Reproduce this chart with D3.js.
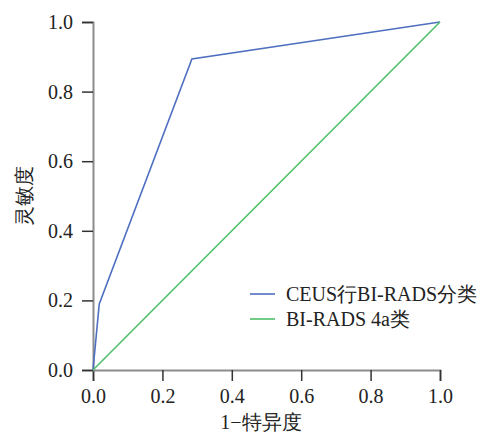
<!DOCTYPE html>
<html>
<head>
<meta charset="utf-8">
<script src="https://cdn.jsdelivr.net/npm/d3@7"></script>
<style>
  body { margin: 0; background: #fff; }
  svg text { font-family: "Liberation Serif", "Times New Roman", Times, "DejaVu Serif", serif; fill: #222; }
</style>
</head>
<body>
<div id="plot"></div>
<script>
const width = 484, height = 439;
const margin = { top: 22, bottom: 69, left: 93, right: 44 };

// ROC data
const ceusFpr = [0, 0.018, 0.285, 1];
const ceusTpr = [0, 0.19, 0.894, 1];
const refFpr = [0, 1];
const refTpr = [0, 1];
const ticks = [0, 0.2, 0.4, 0.6, 0.8, 1.0];
const seriesNames = ['CEUS行BI-RADS分类', 'BI-RADS 4a类'];
const colors = ['#4f6fc0', '#4fbf6a'];
const serif = '"Liberation Serif", "Times New Roman", Times, serif';

const svg = d3.select('#plot')
  .append('svg')
  .attr('width', width)
  .attr('height', height)
  .attr('font-family', serif);

const x = d3.scaleLinear().domain([0, 1]).range([margin.left, width - margin.right]);
const y = d3.scaleLinear().domain([0, 1]).range([height - margin.bottom, margin.top]);

// Axes
const xAxis = svg.append('g')
  .attr('transform', `translate(0,${height - margin.bottom})`)
  .call(d3.axisBottom(x).tickValues(ticks).tickFormat(d3.format('.1f')).tickSizeOuter(0).tickSize(11).tickPadding(8));

const yAxis = svg.append('g')
  .attr('transform', `translate(${margin.left},0)`)
  .call(d3.axisLeft(y).tickValues(ticks).tickFormat(d3.format('.1f')).tickSizeOuter(0).tickSize(11).tickPadding(9));

[xAxis, yAxis].forEach(a => {
  a.attr('font-family', serif).attr('font-size', 20);
  a.select('.domain').attr('stroke', '#8c8c8c').attr('stroke-width', 2);
  a.selectAll('.tick line').attr('stroke', '#333').attr('stroke-width', 1.5);
  a.selectAll('.tick text').attr('fill', '#222');
});

// Lines
const line = d3.line().x(d => x(d[0])).y(d => y(d[1]));
const series = [
  d3.zip(ceusFpr, ceusTpr),
  d3.zip(refFpr, refTpr)
];

svg.append('g')
  .selectAll('path')
  .data(series)
  .join('path')
  .attr('d', line)
  .attr('fill', 'none')
  .attr('stroke', (d, i) => colors[i])
  .attr('stroke-width', 1.6);

// Axis labels
svg.append('text')
  .attr('x', 261)
  .attr('y', 429)
  .attr('text-anchor', 'middle')
  .style('font-size', '20px')
  .text('1−特异度');

svg.append('text')
  .attr('transform', `translate(31,${y(0.5)}) rotate(-90)`)
  .attr('text-anchor', 'middle')
  .style('font-size', '20px')
  .text('灵敏度');

// Legend
const legend = svg.append('g')
  .attr('transform', 'translate(250,294)');

legend.selectAll('line')
  .data(seriesNames)
  .join('line')
  .attr('x1', 0)
  .attr('x2', 25)
  .attr('y1', (d, i) => i * 25)
  .attr('y2', (d, i) => i * 25)
  .attr('stroke', (d, i) => colors[i])
  .attr('stroke-width', 1.6);

legend.selectAll('text')
  .data(seriesNames)
  .join('text')
  .attr('x', 36)
  .attr('y', (d, i) => i * 25 + 7)
  .style('font-size', '20px')
  .text(d => d);
</script>
</body>
</html>
